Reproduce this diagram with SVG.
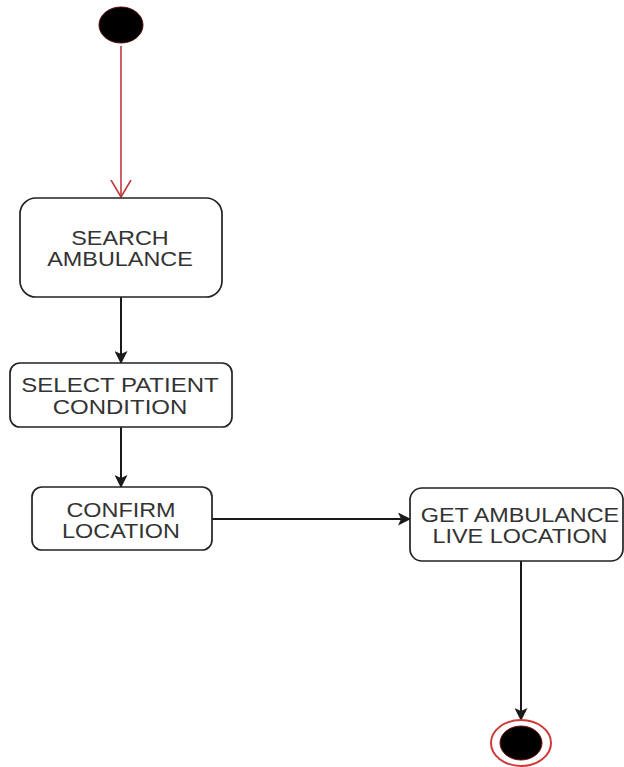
<svg xmlns="http://www.w3.org/2000/svg" width="624" height="767" viewBox="0 0 624 767">
<style>
.box{fill:#fff;stroke:#222;stroke-width:1.7}
.lbl{font-family:"Liberation Sans",Arial,sans-serif;font-size:20px;fill:#333;text-anchor:middle}
.edge{stroke:#1a1a1a;stroke-width:2;fill:none}
</style>
<defs>
<marker id="tri" viewBox="0 0 13 13" refX="12" refY="6.5" markerWidth="13" markerHeight="13" markerUnits="userSpaceOnUse" orient="auto">
<path d="M0,0 L13,6.5 L0,13 L3,6.5 Z" fill="#1a1a1a"/>
</marker>
<marker id="vee" viewBox="0 0 18 22" refX="17" refY="11" markerWidth="18" markerHeight="22" markerUnits="userSpaceOnUse" orient="auto">
<path d="M0,1 L17,11 L0,21" fill="none" stroke="#c0393b" stroke-width="1.6"/>
</marker>
</defs>
<rect width="624" height="767" fill="#fff"/>
<g id="connectors">
<line x1="121" y1="46" x2="121" y2="197" stroke="#c0393b" stroke-width="1.6" marker-end="url(#vee)"/>
<line class="edge" x1="121" y1="297" x2="121" y2="363" marker-end="url(#tri)"/>
<line class="edge" x1="121" y1="427" x2="121" y2="487" marker-end="url(#tri)"/>
<line class="edge" x1="212" y1="519" x2="410" y2="519" marker-end="url(#tri)"/>
<line class="edge" x1="521" y1="561" x2="521" y2="720" marker-end="url(#tri)"/>
</g>
<g id="start">
<ellipse cx="121" cy="25" rx="22" ry="18" fill="#000" stroke="#5a0c0c" stroke-width="1"/>
</g>
<g id="search">
<rect class="box" x="20" y="198" width="202" height="99" rx="16"/>
<text class="lbl" transform="translate(120,245) scale(1.17,1)">SEARCH</text>
<text class="lbl" transform="translate(120,266) scale(1.17,1)">AMBULANCE</text>
</g>
<g id="select">
<rect class="box" x="10" y="363" width="222" height="64" rx="10"/>
<text class="lbl" transform="translate(120,392) scale(1.2,1)">SELECT PATIENT</text>
<text class="lbl" transform="translate(120,414) scale(1.2,1)">CONDITION</text>
</g>
<g id="confirm">
<rect class="box" x="32" y="487" width="180" height="63" rx="10"/>
<text class="lbl" transform="translate(121,517) scale(1.17,1)">CONFIRM</text>
<text class="lbl" transform="translate(121,538) scale(1.17,1)">LOCATION</text>
</g>
<g id="live">
<rect class="box" x="410" y="488" width="213" height="73" rx="12"/>
<text class="lbl" transform="translate(520,522) scale(1.17,1)">GET AMBULANCE</text>
<text class="lbl" transform="translate(520,543) scale(1.17,1)">LIVE LOCATION</text>
</g>
<g id="end">
<ellipse cx="521" cy="743" rx="30" ry="23" fill="#fff" stroke="#cc3a3a" stroke-width="2"/>
<ellipse cx="521" cy="743" rx="21" ry="17" fill="#000" stroke="#7a1010" stroke-width="1"/>
</g>
</svg>
